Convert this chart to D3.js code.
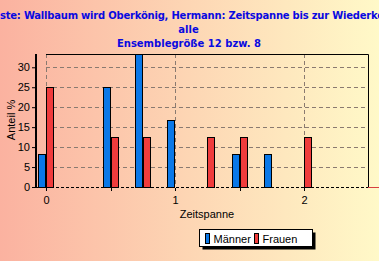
<!DOCTYPE html>
<html>
<head>
<meta charset="utf-8">
<script src="https://cdn.jsdelivr.net/npm/d3@7"></script>
<style>
  body { margin: 0; overflow: hidden; }
  svg { display: block; font-family: "Liberation Sans", Arial, sans-serif; }
</style>
</head>
<body>
<svg id="chart" width="379" height="261"></svg>
<script>
// data
var zeitspanne = [0, 0.25, 0.5, 0.75, 1, 1.25, 1.5, 1.75, 2, 2.25, 2.5];
var maenner   = [8.33, 0, 25, 33.33, 16.67, 0, 8.33, 8.33, 0, 0, 0];
var frauen    = [25, 0, 12.5, 12.5, 0, 12.5, 12.5, 0, 12.5, 0, 0];
var yTicks = [0, 5, 10, 15, 20, 25, 30];
var xTicks = [0, 1, 2];
var xMinor = [0.5, 1.5];
var titleLines = ["Liste: Wallbaum wird Oberkönig, Hermann: Zeitspanne bis zur Wiederkehr", "alle", "Ensemblegröße 12 bzw. 8"];

var svg = d3.select("#chart");
var W = 379, H = 261;

var defs = svg.append("defs");
var grad = defs.append("linearGradient").attr("id", "bg")
  .attr("x1", "0").attr("x2", "1").attr("y1", "0").attr("y2", "0");
grad.append("stop").attr("offset", "0").attr("stop-color", "#fbb2a0");
grad.append("stop").attr("offset", "0.5").attr("stop-color", "#fdd6b4");
grad.append("stop").attr("offset", "1").attr("stop-color", "#fff9c8");
svg.append("rect").attr("width", W).attr("height", H).attr("fill", "url(#bg)");

var x = d3.scaleLinear().domain([-0.0775, 2.496]).range([36, 368]);
var y = d3.scaleLinear().domain([0, 33.33]).range([187, 54]);

// grid
var g = svg.append("g");
g.selectAll(".hg").data(yTicks.slice(1)).enter().append("line")
  .attr("x1", x(0)).attr("x2", x.range()[1])
  .attr("y1", function(d) { return Math.round(y(d)) + 0.5; })
  .attr("y2", function(d) { return Math.round(y(d)) + 0.5; })
  .attr("stroke", "#8a7a70").attr("stroke-dasharray", "4,3");
g.selectAll(".vg").data(xTicks).enter().append("line")
  .attr("x1", function(d) { return Math.round(x(d)) + 0.5; })
  .attr("x2", function(d) { return Math.round(x(d)) + 0.5; })
  .attr("y1", y.range()[1]).attr("y2", y(0))
  .attr("stroke", "#8a7a70").attr("stroke-dasharray", "4,3");

// frame top and right
g.append("path")
  .attr("d", "M" + x(0) + "," + (y.range()[1] + 0.5) + "H" + (x.range()[1] + 0.5) + "V" + y(0))
  .attr("fill", "none").attr("stroke", "#000");

// bars
var bw = 7;
g.selectAll(".bm").data(zeitspanne).enter().append("rect")
  .attr("x", function(d) { return Math.round(x(d)) - bw - 0.5; })
  .attr("y", function(d, i) { return Math.round(y(maenner[i])) + 0.5; })
  .attr("width", bw)
  .attr("height", function(d, i) { return y(0) - Math.round(y(maenner[i])); })
  .attr("fill", "#0a78e8")
  .attr("stroke", function(d, i) { return maenner[i] > 0 ? "#000" : "#6ab8f0"; });
g.selectAll(".bf").data(zeitspanne).enter().append("rect")
  .attr("x", function(d) { return Math.round(x(d)) + 0.5; })
  .attr("y", function(d, i) { return Math.round(y(frauen[i])) + 0.5; })
  .attr("width", bw)
  .attr("height", function(d, i) { return y(0) - Math.round(y(frauen[i])); })
  .attr("fill", "#f03c3c")
  .attr("stroke", function(d, i) { return frauen[i] > 0 ? "#000" : "#e85050"; });

// x baseline
g.append("line").attr("x1", x.range()[0]).attr("x2", x.range()[1])
  .attr("y1", y(0) + 0.5).attr("y2", y(0) + 0.5)
  .attr("stroke", "#000").attr("stroke-dasharray", "3,2");
g.append("line").attr("x1", x.range()[1]).attr("x2", W)
  .attr("y1", y(0) + 0.5).attr("y2", y(0) + 0.5)
  .attr("stroke", "#d84040");

// y axis
var yAxis = d3.axisLeft(y).tickValues(yTicks).tickSize(4).tickPadding(2);
var ya = svg.append("g").attr("transform", "translate(36,0)").call(yAxis);
ya.select(".domain").attr("stroke-width", 2).attr("d", "M0," + y.range()[1] + "V" + (y(0) + 1));
ya.selectAll("text").attr("font-size", 11).attr("fill", "#000").attr("font-family", "Liberation Sans, Arial");

// x axis ticks
var xAxis = d3.axisBottom(x).tickValues(xTicks).tickSize(3).tickPadding(5).tickFormat(d3.format("d"));
var xa = svg.append("g").attr("transform", "translate(0," + (y(0) + 1) + ")").call(xAxis);
xa.select(".domain").remove();
xa.selectAll("text").attr("font-size", 11).attr("fill", "#000").attr("font-family", "Liberation Sans, Arial");
xa.selectAll(".minor").data(xMinor).enter().append("line")
  .attr("x1", function(d) { return Math.round(x(d)) + 0.5; })
  .attr("x2", function(d) { return Math.round(x(d)) + 0.5; })
  .attr("y1", 0).attr("y2", 3).attr("stroke", "#000");

// axis titles
svg.append("text").attr("x", 207).attr("y", 218).attr("text-anchor", "middle")
  .attr("font-size", 11).text("Zeitspanne");
svg.append("text").attr("transform", "translate(15,120) rotate(-90)").attr("text-anchor", "middle")
  .attr("font-size", 11).text("Anteil %");

// title
var tFont = "DejaVu Sans, Verdana, sans-serif";
var t1 = svg.append("text").attr("y", 19).attr("font-size", 10).attr("font-weight", "bold")
  .attr("letter-spacing", -0.22)
  .attr("font-family", tFont).attr("fill", "#0a0ae0").text(titleLines[0]);
var pre = t1.node().getSubStringLength(0, 2);
t1.attr("x", 0 - pre);
svg.append("text").attr("x", 188.5).attr("y", 33).attr("text-anchor", "middle")
  .attr("font-family", tFont).attr("font-size", 10).attr("font-weight", "bold").attr("fill", "#0a0ae0").text(titleLines[1]);
svg.append("text").attr("x", 189).attr("y", 47).attr("text-anchor", "middle")
  .attr("font-family", tFont).attr("font-size", 10).attr("font-weight", "bold").attr("fill", "#0a0ae0").text(titleLines[2]);

// legend
var lg = svg.append("g").attr("transform", "translate(199.5,229.5)");
lg.append("rect").attr("x", 3).attr("y", 3).attr("width", 113).attr("height", 17).attr("fill", "#000");
lg.append("rect").attr("width", 113).attr("height", 17).attr("fill", "#fff").attr("stroke", "#000");
var items = [["Männer", "#0a78e8", 6], ["Frauen", "#f03c3c", 55]];
items.forEach(function(it) {
  lg.append("rect").attr("x", it[2]).attr("y", 4).attr("width", 4).attr("height", 10)
    .attr("fill", it[1]).attr("stroke", "#000");
  lg.append("text").attr("x", it[2] + 8).attr("y", 13).attr("font-size", 11).text(it[0]);
});
</script>
</body>
</html>
